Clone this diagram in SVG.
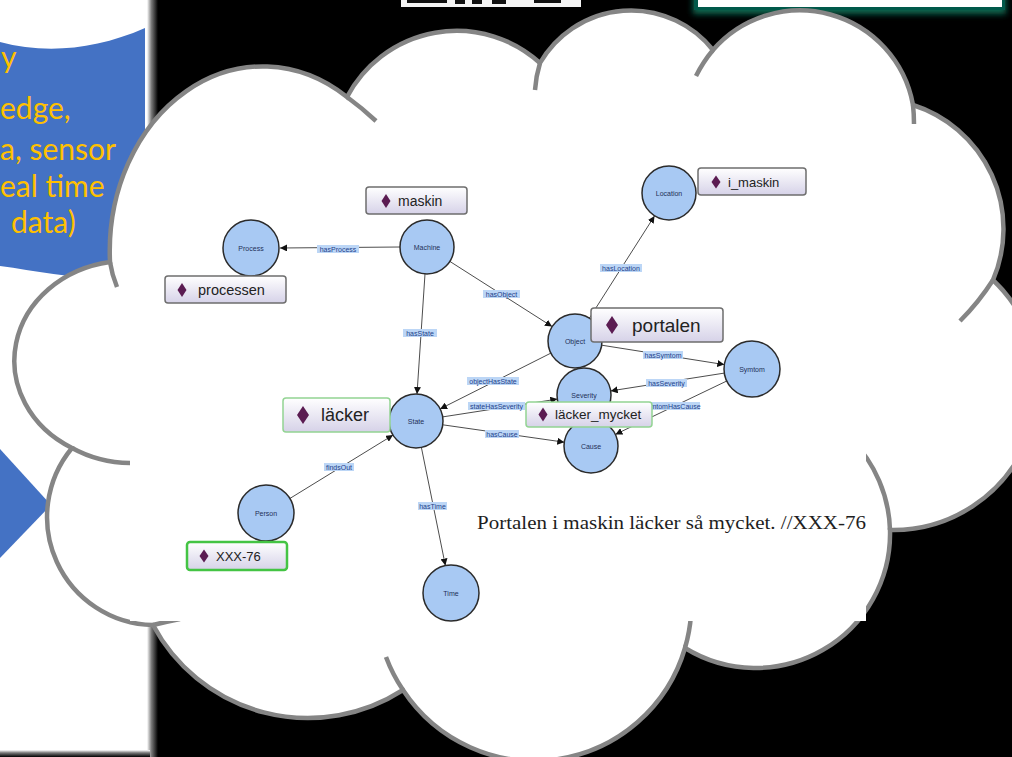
<svg xmlns="http://www.w3.org/2000/svg" width="1012" height="757" viewBox="0 0 1012 757">
<defs>
<style>
.cl{fill:none;stroke:#858585;stroke-width:4.5}
.nd{fill:#a8c9f3;stroke:#2b2b2b;stroke-width:1.5}
.nt{font-family:"Liberation Sans",Arial,sans-serif;font-size:7px;fill:#1f3058;text-anchor:middle}
.ed{fill:none;stroke:#4d4d4d;stroke-width:1}
.lb{fill:#bcd6f6}
.lt{font-family:"Liberation Sans",Arial,sans-serif;font-size:7px;fill:#223f8c;text-anchor:middle}
.ib{fill:url(#ig);stroke:#6e6e6e;stroke-width:1.5}
.ibg{fill:url(#ig);stroke:#93d493;stroke-width:1.5}
.it{font-family:"Liberation Sans",Arial,sans-serif;fill:#222}
.dm{fill:#5b1c52}
.bt{font-family:Lato,"Liberation Sans",sans-serif;font-size:30px;fill:#ffc000}
</style>
<linearGradient id="ig" x1="0" y1="0" x2="0" y2="1">
<stop offset="0" stop-color="#ffffff"/>
<stop offset="1" stop-color="#d6d2e8"/>
</linearGradient>
<linearGradient id="sh" x1="0" y1="0" x2="1" y2="0">
<stop offset="0" stop-color="#ffffff"/>
<stop offset="0.4" stop-color="#7a7a7a"/>
<stop offset="1" stop-color="#000000"/>
</linearGradient>
<linearGradient id="shb" x1="0" y1="0" x2="0" y2="1">
<stop offset="0" stop-color="#ffffff"/>
<stop offset="0.4" stop-color="#7a7a7a"/>
<stop offset="1" stop-color="#000000"/>
</linearGradient>
<filter id="glow" x="-10%" y="-100%" width="120%" height="300%">
<feGaussianBlur stdDeviation="3"/>
</filter>
<marker id="ar" viewBox="0 0 10 10" refX="10" refY="5" markerWidth="7" markerHeight="7" orient="auto" markerUnits="userSpaceOnUse">
<path d="M0,0 L10,5 L0,10 Z" fill="#111"/>
</marker>
</defs>

<rect x="0" y="0" width="1012" height="757" fill="#000"/>

<g id="left-panel">
<rect x="0" y="0" width="150" height="752" fill="#fff"/>
<rect x="147" y="0" width="11" height="757" fill="url(#sh)"/>
<rect x="0" y="750" width="150" height="7" fill="url(#shb)"/>
<path d="M0,42 C45,54 95,50 145,28 L145,276 C95,284 45,272 0,266 Z" fill="#4472c4"/>
<polygon points="0,449 51,505 0,558" fill="#4472c4"/>
<text class="bt" x="1" y="68">y</text>
<text class="bt" x="0" y="119">edge,</text>
<text class="bt" x="0" y="160">a, sensor</text>
<text class="bt" x="0" y="197">eal time</text>
<text class="bt" x="11" y="233">data)</text>
</g>

<g id="top-logo">
<rect x="401" y="-2" width="180" height="9" fill="#f4f4f4"/>
<rect x="407" y="-2" width="40" height="5" fill="#111"/>
<rect x="455" y="-2" width="10" height="6" fill="#111"/>
<rect x="472" y="-2" width="10" height="6" fill="#111"/>
<rect x="492" y="-2" width="14" height="6" fill="#111"/>
<rect x="534" y="-2" width="27" height="5" fill="#111"/>
</g>

<g id="top-green-box">
<rect x="693" y="-8" width="313" height="22" fill="#0a6b52" filter="url(#glow)"/>
<rect x="694" y="-6" width="311" height="16" fill="#00594a"/>
<rect x="698" y="-6" width="304" height="13" fill="#fff"/>
</g>

<g id="cloud">
<path d="M110,262 A153,185 0 0 1 347,97 A124,124 0 0 1 540,63 A105,105 0 0 1 713,50 A115,115 0 0 1 913,105 A130,130 0 0 1 993,280 A145,145 0 0 1 890,530 A134.5,134.5 0 0 1 685,648 A157,157 0 0 1 403,690 A175.5,175.5 0 0 1 153,625 A108,108 0 0 1 72,448 A113,100 0 0 1 110,262 Z" fill="#fff" stroke="#858585" stroke-width="4.5" stroke-linejoin="miter"/>
<path class="cl" d="M110,262 Q112,275 117,287"/>
<path class="cl" d="M347,97 Q362,108 376,121"/>
<path class="cl" d="M540,63 Q536,76 535,90"/>
<path class="cl" d="M713,50 Q703,62 696,76"/>
<path class="cl" d="M913,105 Q914,114 914,124"/>
<path class="cl" d="M993,280 Q979,302 960,321"/>
<path class="cl" d="M890,530 A134.5,134.5 0 0 0 851,439"/>
<path class="cl" d="M685,648 A157,157 0 0 0 691,615"/>
<path class="cl" d="M403,690 A157,157 0 0 1 386,657"/>
<path class="cl" d="M153,625 Q165,622 180,619"/>
<path class="cl" d="M72,448 A113,100 0 0 0 130,463 L140,463"/>
</g>

<rect id="screenshot" x="130" y="190" width="736" height="431" fill="#fff"/>

<g id="connectors">
<line class="ed" x1="400" y1="247" x2="280" y2="248" marker-end="url(#ar)"/>
<line class="ed" x1="425" y1="274" x2="417" y2="394" marker-end="url(#ar)"/>
<line class="ed" x1="450" y1="261.5" x2="552" y2="326.5" marker-end="url(#ar)"/>
<line class="ed" x1="589.5" y1="318" x2="654.5" y2="216" marker-end="url(#ar)"/>
<line class="ed" x1="601.7" y1="345.2" x2="724.3" y2="364.6" marker-end="url(#ar)"/>
<line class="ed" x1="550.9" y1="353.1" x2="440.1" y2="408.9" marker-end="url(#ar)"/>
<line class="ed" x1="724.3" y1="373.1" x2="610.7" y2="390.9" marker-end="url(#ar)"/>
<line class="ed" x1="727.6" y1="380.6" x2="615.4" y2="434.4" marker-end="url(#ar)"/>
<line class="ed" x1="442.7" y1="416.9" x2="557.3" y2="399.1" marker-end="url(#ar)"/>
<line class="ed" x1="442.7" y1="424.8" x2="564.3" y2="442.2" marker-end="url(#ar)"/>
<line class="ed" x1="290" y1="498.4" x2="393" y2="435.1" marker-end="url(#ar)"/>
<line class="ed" x1="421.4" y1="447.5" x2="445.4" y2="565.6" marker-end="url(#ar)"/>
<g id="edge-labels">
<rect class="lb" x="317" y="245" width="42" height="8"/><text class="lt" x="338" y="251.5">hasProcess</text>
<rect class="lb" x="403" y="329" width="34" height="8"/><text class="lt" x="420" y="335.5">hasState</text>
<rect class="lb" x="483" y="290" width="37" height="8"/><text class="lt" x="501.5" y="296.5">hasObject</text>
<rect class="lb" x="600" y="264" width="42" height="8"/><text class="lt" x="621" y="270.5">hasLocation</text>
<rect class="lb" x="643" y="351" width="40" height="8"/><text class="lt" x="663" y="357.5">hasSymtom</text>
<rect class="lb" x="467" y="377" width="52" height="8"/><text class="lt" x="493" y="383.5">objectHasState</text>
<rect class="lb" x="646" y="379" width="41" height="8"/><text class="lt" x="666.5" y="385.5">hasSeverity</text>
<rect class="lb" x="468" y="402" width="57" height="8"/><text class="lt" x="496.5" y="408.5">stateHasSeverity</text>
<rect class="lb" x="644" y="402" width="56" height="8"/><text class="lt" x="672" y="408.5">symtomHasCause</text>
<rect class="lb" x="485" y="430" width="34" height="8"/><text class="lt" x="502" y="436.5">hasCause</text>
<rect class="lb" x="324" y="463" width="30" height="8"/><text class="lt" x="339" y="469.5">findsOut</text>
<rect class="lb" x="418" y="502" width="29" height="8"/><text class="lt" x="432.5" y="508.5">hasTime</text>
</g>
</g>

<g id="node-process"><circle class="nd" cx="251" cy="248" r="28"/><text class="nt" x="251" y="250.5">Process</text></g>
<g id="node-machine"><circle class="nd" cx="427" cy="247" r="27"/><text class="nt" x="427" y="249.5">Machine</text></g>
<g id="node-location"><circle class="nd" cx="669" cy="193" r="27"/><text class="nt" x="669" y="195.5">Location</text></g>
<g id="node-object"><circle class="nd" cx="575" cy="341" r="27"/><text class="nt" x="575" y="343.5">Object</text></g>
<g id="node-symtom"><circle class="nd" cx="752" cy="369" r="28"/><text class="nt" x="752" y="371.5">Symtom</text></g>
<g id="node-severity"><circle class="nd" cx="584" cy="395" r="27"/><text class="nt" x="584" y="397.5">Severity</text></g>
<g id="node-cause"><circle class="nd" cx="591" cy="446" r="27"/><text class="nt" x="591" y="448.5">Cause</text></g>
<g id="node-state"><circle class="nd" cx="416" cy="421" r="27"/><text class="nt" x="416" y="423.5">State</text></g>
<g id="node-person"><circle class="nd" cx="266" cy="513" r="28"/><text class="nt" x="266" y="515.5">Person</text></g>
<g id="node-time"><circle class="nd" cx="451" cy="593" r="28"/><text class="nt" x="451" y="595.5">Time</text></g>

<g id="inst-maskin"><rect class="ib" x="366" y="187" width="101" height="27" rx="3"/><path class="dm" d="M386,194 L390.5,201 L386,208 L381.5,201 Z"/><text class="it" x="398" y="206" font-size="14">maskin</text></g>
<g id="inst-processen"><rect class="ib" x="165" y="276" width="121" height="27" rx="3"/><path class="dm" d="M182,283 L186.5,290 L182,297 L177.5,290 Z"/><text class="it" x="198" y="295" font-size="14.5">processen</text></g>
<g id="inst-i_maskin"><rect class="ib" x="698" y="168" width="108" height="27" rx="3"/><path class="dm" d="M716,175.5 L720.5,182 L716,188.5 L711.5,182 Z"/><text class="it" x="728" y="187" font-size="13">i_maskin</text></g>
<g id="inst-portalen"><rect class="ib" x="591" y="308" width="132" height="34" rx="3"/><path class="dm" d="M612,316 L618,325 L612,334 L606,325 Z"/><text class="it" x="632" y="332" font-size="19">portalen</text></g>
<g id="inst-lacker"><rect class="ibg" x="283" y="398" width="107" height="34" rx="3"/><path class="dm" d="M303,406 L309,415 L303,424 L297,415 Z"/><text class="it" x="321" y="421" font-size="18">läcker</text></g>
<g id="inst-lacker_mycket"><rect class="ibg" x="526" y="402" width="126" height="25" rx="3"/><path class="dm" d="M543,407.5 L547.5,414.5 L543,421.5 L538.5,414.5 Z"/><text class="it" x="555" y="419" font-size="13.5">läcker_mycket</text></g>
<g id="inst-xxx76"><rect class="ib" x="187" y="542" width="100" height="28" rx="3" style="stroke:#44c444;stroke-width:2.5"/><path class="dm" d="M204,549.5 L208.5,556 L204,562.5 L199.5,556 Z"/><text class="it" x="216" y="561" font-size="13">XXX-76</text></g>

<text x="477" y="529" font-family="'Liberation Serif','DejaVu Serif',serif" font-size="18.5" fill="#1e1e1e" textLength="389" lengthAdjust="spacingAndGlyphs">Portalen i maskin läcker så mycket. //XXX-76</text>
</svg>
